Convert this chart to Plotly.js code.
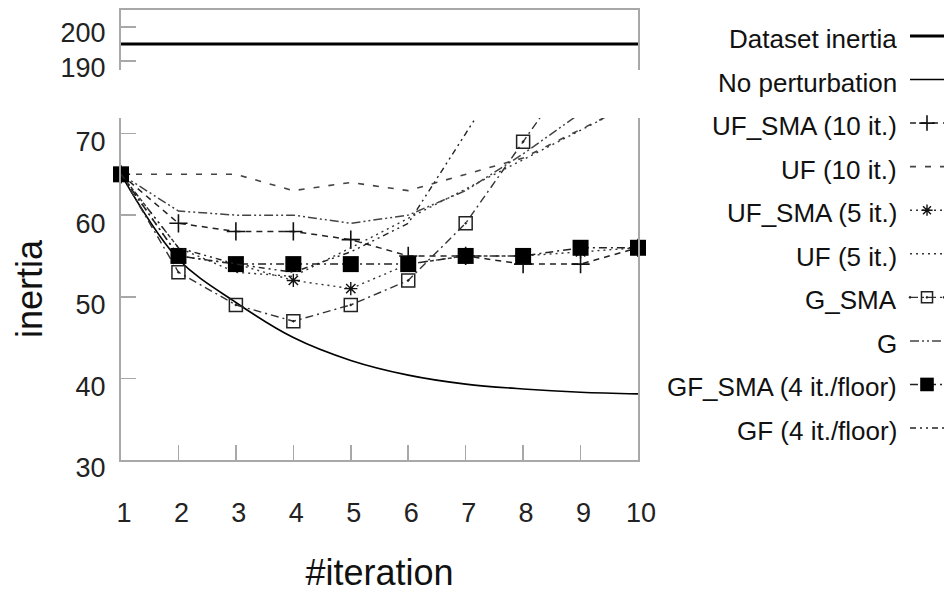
<!DOCTYPE html>
<html>
<head>
<meta charset="utf-8">
<script src="https://cdn.plot.ly/plotly-3.0.1.min.js"></script>
<style>html,body{margin:0;padding:0;background:#fff;}#chart{width:944px;height:593px;}</style>
</head>
<body>
<div id="chart"></div>
<script>
// ---- data ----
const iterations = [1, 2, 3, 4, 5, 6, 7, 8, 9, 10];
const datasetInertia = [195, 195, 195, 195, 195, 195, 195, 195, 195, 195];
const noPerturbation = [65, 54.6, 49.3, 45.0, 42.2, 40.4, 39.3, 38.7, 38.3, 38.1];
const ufSma10 = [65, 59, 58, 58, 57, 55, 55, 54, 54, 56];
const uf10 = [65, 65, 65, 63, 64, 63, 65, 67, 70.5, 74];
const ufSma5 = [65, 55, 54, 52, 51, 54, 55, 55, 55.5, 56];
const uf5 = [65, 56, 53, 52.5, 56, 59.6, 63.2, 66.8, 70.4, 74];
const gSma = [65, 53, 49, 47, 49, 52, 59, 69, 79, 89];
const g = [65, 60.5, 60, 60, 59, 60, 63, 67.5, 72.5, 77];
const gfSma = [65, 55, 54, 54, 54, 54, 55, 55, 56, 56];
const gf = [65, 56, 54, 53, 55.5, 59, 70, 81, 92, 103];
const seriesNames = ["Dataset inertia", "No perturbation", "UF_SMA (10 it.)", "UF (10 it.)",
  "UF_SMA (5 it.)", "UF (5 it.)", "G_SMA", "G", "GF_SMA (4 it./floor)", "GF (4 it./floor)"];
const yTicksLower = [30, 40, 50, 60, 70];
const yTicksUpper = [190, 200];

// ---- styles ----
const styles = [
  {line: {color: '#000', width: 3, dash: 'solid'}, panel: 'upper'},
  {line: {color: '#000', width: 1.6, dash: 'solid', shape: 'spline', smoothing: 1}},
  {line: {color: '#222', width: 1.5, dash: '6px,5px'}, marker: {symbol: 'cross-thin-open', size: 13, color: '#111', line: {width: 1.6, color: '#111'}}},
  {line: {color: '#444', width: 1.6, dash: '6px,9px'}},
  {line: {color: '#333', width: 1.4, dash: '2px,4px'}, marker: {symbol: 'asterisk-open', size: 11, color: '#111', line: {width: 1.4, color: '#111'}}},
  {line: {color: '#333', width: 1.4, dash: '2px,4px'}},
  {line: {color: '#333', width: 1.4, dash: '8px,4px,2px,4px'}, marker: {symbol: 'square-open-dot', size: 13, color: '#222', line: {width: 1.5, color: '#222'}}},
  {line: {color: '#444', width: 1.5, dash: '9px,3px,2px,3px,2px,3px'}},
  {line: {color: '#222', width: 1.5, dash: '8px,4px,2px,4px'}, marker: {symbol: 'square', size: 16, color: '#000', line: {width: 0, color: '#000'}}, noclip: true},
  {line: {color: '#222', width: 1.4, dash: '6px,4px,2px,4px,2px,4px'}}
];
const seriesValues = [datasetInertia, noPerturbation, ufSma10, uf10, ufSma5, uf5, gSma, g, gfSma, gf];

const traces = [];
seriesValues.forEach((vals, i) => {
  const st = styles[i];
  const t = {
    x: iterations, y: vals, name: seriesNames[i],
    type: 'scatter', mode: st.marker ? 'lines+markers' : 'lines',
    line: st.line, hoverinfo: 'skip',
    cliponaxis: !st.noclip
  };
  if (st.marker) t.marker = st.marker;
  if (st.panel === 'upper') { t.xaxis = 'x2'; t.yaxis = 'y2'; }
  traces.push(t);
});

// legend samples (custom legend, symbols on the right of the text)
seriesNames.forEach((nm, i) => {
  const st = styles[i];
  const t = {
    x: [0, 0.5, 1], y: [i, i, i], xaxis: 'x3', yaxis: 'y3',
    type: 'scatter', mode: st.marker ? 'lines+markers' : 'lines',
    line: Object.assign({}, st.line, {shape: 'linear'}), hoverinfo: 'skip', cliponaxis: false
  };
  if (st.marker) t.marker = Object.assign({}, st.marker, {size: [0, st.marker.size * 0.85, 0], opacity: 1});
  traces.push(t);
});

const axisColor = '#a8a8a8';
const tickFont = {family: 'Liberation Sans, Arial, sans-serif', size: 27, color: '#222'};
const mainXDomain = [0, 0.6282];

const annotations = seriesNames.map((nm, i) => ({
  text: nm, x: 0.9453, xref: 'paper', y: i, yref: 'y3',
  xanchor: 'right', yanchor: 'middle', showarrow: false, yshift: -3,
  font: {family: 'Liberation Sans, Arial, sans-serif', size: 26, color: '#111'}
}));

const layout = {
  width: 944, height: 593,
  margin: {l: 121, r: 0, t: 10, b: 133},
  paper_bgcolor: '#fff', plot_bgcolor: '#fff',
  showlegend: false,
  font: {family: 'Liberation Sans, Arial, sans-serif', color: '#111'},
  xaxis: {
    domain: mainXDomain, range: [1, 10], anchor: 'y',
    tickvals: iterations, ticks: 'inside', ticklen: 15, tickwidth: 1.5, tickcolor: axisColor,
    showline: true, linecolor: axisColor, linewidth: 2, mirror: false,
    showgrid: false, zeroline: false, tickfont: tickFont,
    ticklabelstandoff: 28, ticklabelshift: 3,
    title: {text: '#iteration', font: {size: 36, color: '#111'}, standoff: 43}
  },
  yaxis: {
    domain: [0, 0.76], range: [30, 71.9], anchor: 'x',
    tickvals: yTicksLower, ticks: 'inside', ticklen: 15, tickwidth: 1.5, tickcolor: axisColor,
    showline: true, linecolor: axisColor, linewidth: 2, mirror: true,
    showgrid: false, zeroline: false, tickfont: tickFont,
    ticklabelstandoff: 8, ticklabelshift: 8,
    title: {text: 'inertia', font: {size: 36, color: '#111'}, standoff: 22}
  },
  xaxis2: {
    domain: mainXDomain, range: [1, 10], anchor: 'y2', matches: 'x', side: 'top',
    showline: true, linecolor: axisColor, linewidth: 2, ticks: '', showticklabels: false,
    showgrid: false, zeroline: false
  },
  yaxis2: {
    domain: [0.8667, 1], range: [187.4, 205], anchor: 'x2',
    tickvals: yTicksUpper, ticks: 'inside', ticklen: 15, tickwidth: 1.5, tickcolor: axisColor,
    showline: true, linecolor: axisColor, linewidth: 2, mirror: true,
    showgrid: false, zeroline: false, tickfont: tickFont,
    ticklabelstandoff: 8, ticklabelshift: 6
  },
  xaxis3: {domain: [0.9587, 1], range: [0, 1], anchor: 'y3', visible: false},
  yaxis3: {domain: [0.0227, 0.9907], range: [9.5, -0.5], anchor: 'x3', visible: false},
  annotations: annotations
};

Plotly.newPlot('chart', traces, layout, {displayModeBar: false, staticPlot: true});
</script>
</body>
</html>
